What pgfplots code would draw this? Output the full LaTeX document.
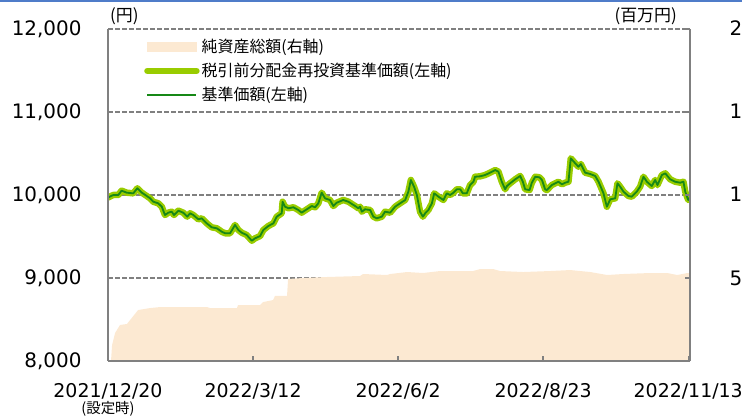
\documentclass[border=0pt]{standalone}
\usepackage{pgfplots}
\usepackage{pgfplotstable}
\pgfplotsset{compat=1.18}
\usepackage{fontspec}
\setmainfont{DejaVu Sans}
\newfontfamily\jp{Noto Sans CJK JP}
\definecolor{peach}{HTML}{FCE9D2}
\definecolor{lgreen}{HTML}{99CC00}
\definecolor{dgreen}{HTML}{168816}
\definecolor{axgray}{HTML}{808080}
\definecolor{topblue}{HTML}{4F7CC9}
\pgfplotsset{
  layers/gridbelow/.define layer set={axis background,axis grid,pre main,main,axis ticks,axis lines,axis tick labels,axis descriptions,axis foreground}{/pgfplots/layers/standard},
  mylinelegend/.style={legend image code/.code={\draw[##1] (0bp,0bp) -- (49bp,0bp);}},
  myarealegend/.style={legend image code/.code={\fill[peach] (0bp,-4.5bp) rectangle (49bp,4.5bp);}},
}
\pgfplotstableread{
d v
0 9970
3.0 10000
5.8 10000
7.7 10052
10.6 10028
14.3 10020
16.6 10081
19.1 10028
21.9 9988
23.8 9960
25.6 9919
28.4 9900
30.4 9859
32.2 9759
34.1 9787
36.0 9799
37.3 9759
39.8 9811
42.5 9787
44.8 9739
46.4 9780
48.2 9759
51.1 9707
53.0 9719
55.8 9659
58.6 9611
61.5 9599
64.3 9558
66.2 9539
69.0 9539
71.8 9639
73.7 9578
75.6 9546
78.4 9518
81.3 9449
83.1 9478
86.0 9506
87.8 9578
90.6 9626
93.5 9659
95.4 9739
98.2 9780
98.7 9919
100.1 9859
102.0 9840
104.8 9852
107.6 9819
109.5 9787
112.4 9828
115.2 9867
117.1 9852
118.9 9900
120.8 10028
122.7 9960
125.5 9940
127.4 9867
129.3 9907
133.0 9940
135.9 9919
139.7 9867
141.5 9840
142.5 9859
143.5 9799
145.3 9828
148.2 9819
150.0 9739
151.9 9719
154.8 9739
156.6 9799
159.5 9787
162.3 9859
165.1 9900
168.0 9940
169.8 10040
171.2 10181
173.0 10100
174.6 10000
176.4 9799
178.0 9739
179.3 9780
181.1 9819
183.1 9900
184.4 10020
186.8 9980
189.6 9940
191.5 10020
193.4 10000
195.3 10028
197.2 10069
199.1 10069
200.6 10020
202.8 10020
204.7 10120
206.6 10160
207.5 10220
210.4 10225
213.2 10241
216.0 10269
218.9 10301
220.7 10281
222.6 10160
224.5 10069
225.5 10108
227.3 10141
230.2 10189
233.0 10229
234.5 10160
235.8 10069
238.3 10060
239.6 10148
241.5 10220
243.9 10213
245.3 10181
247.1 10069
248.1 10060
250.9 10120
252.8 10141
254.6 10160
256.6 10129
258.4 10148
260.3 10160
261.6 10442
264.1 10382
265.9 10341
267.3 10373
269.7 10269
272.6 10253
275.4 10229
277.3 10160
280.1 10020
282.0 9859
283.9 9948
286.7 9960
288.0 10141
289.5 10100
291.4 10040
294.2 9988
296.1 9980
298.9 10040
300.8 10100
302.7 10220
304.6 10160
307.4 10108
309.3 10181
310.6 10120
313.1 10241
315.0 10261
317.8 10189
320.6 10160
323.5 10148
325.3 10160
326.3 10040
328.0 9940
329.0 9970
}\nav
\pgfplotstableread{
d r
1.7 0
2.3 96
4.0 169
6.8 217
10.7 223
17.0 307
23.8 319
29.4 325
56.0 325
57.7 319
72.9 319
73.5 337
86.0 337
87.7 355
93.3 367
94.4 392
101.2 392
101.8 494
110.3 500
123.8 506
142.5 512
144.2 524
157.8 518
159.5 524
169.1 536
178.1 530
187.7 542
206.4 542
210.4 554
217.7 554
221.7 542
234.7 536
250.0 542
261.3 548
272.6 536
282.2 518
291.2 524
306.5 530
316.1 530
321.8 518
327.4 530
329.0 530
}\assets
\begin{document}
\begin{tikzpicture}
\fill[topblue] (0,414.8bp) rectangle (742bp,417bp);
\begin{axis}[
  set layers=gridbelow,
  at={(108bp,56bp)}, anchor=south west,
  scale only axis, width=582bp, height=332bp,
  xmin=0, xmax=329, ymin=0, ymax=2000,
  axis x line*=bottom, axis y line*=right,
  axis line style={-, axgray, line width=1.6bp},
  xtick={0,82,164,246,328},
  xticklabels={{2021/12/20\\[-6bp]{\jp\fontsize{14.5}{16}\selectfont (設定時)}},2022/3/12,2022/6/2,2022/8/23,2022/11/13},
  xticklabel style={font=\fontsize{19}{22}\selectfont, align=center, yshift=-19bp},
  ytick={0,500,1000,1500,2000},
  yticklabels={,500,{1,000},{1,500},{2,000}},
  yticklabel style={font=\fontsize{20}{24}\selectfont, anchor=west, xshift=36bp},
  scaled y ticks=false,
  tick align=inside,
  major tick length=5bp,
  tick style={axgray, line width=1.4bp},
  ymajorgrids,
  grid style={axgray, line width=1.2bp, dash pattern=on 4.5bp off 2.5bp},
]
\addplot[fill=peach, draw=none] table[x=d,y=r]{\assets} \closedcycle;
\end{axis}
\begin{axis}[
  set layers=gridbelow,
  clip mode=individual,
  at={(108bp,56bp)}, anchor=south west,
  scale only axis, width=582bp, height=332bp,
  xmin=0, xmax=329, ymin=8000, ymax=12000,
  hide x axis,
  axis y line*=left,
  axis line style={-, axgray, line width=1.8bp},
  ytick={8000,9000,10000,11000,12000},
  yticklabels={{8,000},{9,000},{10,000},{11,000},{12,000}},
  scaled y ticks=false,
  yticklabel style={font=\fontsize{20}{24}\selectfont, anchor=east, xshift=-23bp},
  major tick length=0pt,
  legend cell align=left,
  legend style={draw=none, fill=none, at={(0.0653,0.975)}, anchor=north west,
    xshift=-2bp, inner sep=0pt, row sep=5bp, nodes={inner sep=2bp},
    font=\jp\fontsize{16}{19}\selectfont},
]
\addlegendimage{myarealegend}
\addlegendentry{純資産総額(右軸)}
\addplot[lgreen, line width=6.5bp, line join=round, line cap=round, mylinelegend] table[x=d,y=v]{\nav};
\addlegendentry{税引前分配金再投資基準価額(左軸)}
\addplot[dgreen, line width=1.8bp, line join=round, mylinelegend] table[x=d,y=v]{\nav};
\addlegendentry{基準価額(左軸)}
\node[anchor=south west, inner sep=0pt, xshift=2bp, yshift=4bp, font=\jp\fontsize{17}{20}\selectfont] at (rel axis cs:0,1) {(円)};
\node[anchor=south east, inner sep=0pt, xshift=-13bp, yshift=4bp, font=\jp\fontsize{17}{20}\selectfont] at (rel axis cs:1,1) {(百万円)};
\end{axis}
\pgfresetboundingbox
\useasboundingbox (0,0) rectangle (742bp,417bp);
\end{tikzpicture}
\end{document}
